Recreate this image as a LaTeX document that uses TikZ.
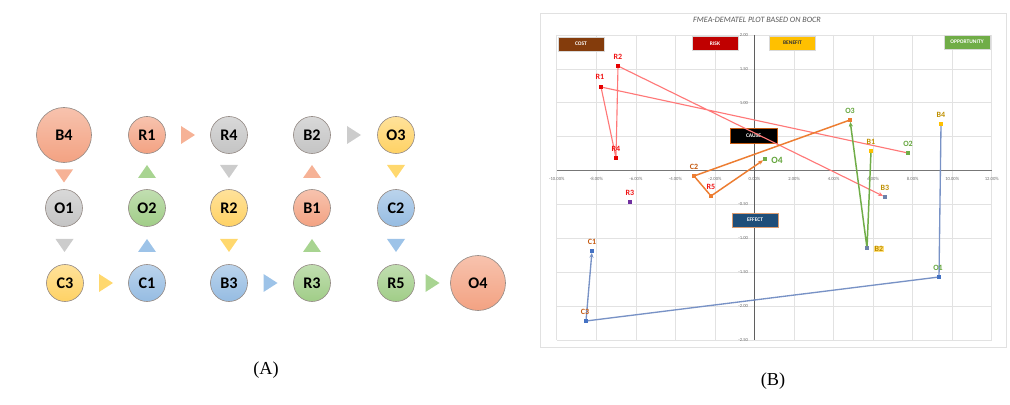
\documentclass[tikz,border=0pt]{standalone}
\usepackage{fontspec}
\setmainfont{Carlito}
\newfontfamily\serifA{Liberation Serif}
\usetikzlibrary{arrows.meta}
\definecolor{salmonN}{RGB}{243,162,130}
\definecolor{grayN}{RGB}{196,196,196}
\definecolor{yellowN}{RGB}{255,210,100}
\definecolor{greenN}{RGB}{160,205,135}
\definecolor{blueN}{RGB}{150,188,226}
\definecolor{salmonT}{RGB}{246,178,150}
\definecolor{grayT}{RGB}{204,204,204}
\definecolor{yellowT}{RGB}{255,216,110}
\definecolor{greenT}{RGB}{168,212,145}
\definecolor{blueT}{RGB}{157,195,232}
\definecolor{nodeBorder}{RGB}{150,140,135}
\definecolor{gridC}{RGB}{226,226,226}
\definecolor{axisC}{RGB}{95,95,95}
\definecolor{tickC}{RGB}{110,110,110}
\definecolor{frameC}{RGB}{225,225,225}
\definecolor{costC}{RGB}{132,60,12}
\definecolor{riskC}{RGB}{192,0,0}
\definecolor{benefitC}{RGB}{255,192,0}
\definecolor{oppC}{RGB}{112,173,71}
\definecolor{redL}{RGB}{255,120,120}
\definecolor{orangeL}{RGB}{237,125,49}
\definecolor{greenL}{RGB}{112,173,71}
\definecolor{blueL}{RGB}{120,146,198}
\definecolor{effectC}{RGB}{31,78,121}
\definecolor{labR}{RGB}{240,20,20}
\definecolor{labC}{RGB}{197,90,17}
\definecolor{labO}{RGB}{100,165,60}
\definecolor{labB}{RGB}{191,144,0}
\definecolor{labBfill}{RGB}{255,222,120}
\definecolor{mkR}{RGB}{230,0,0}
\definecolor{mkP}{RGB}{112,48,160}
\definecolor{mkB}{RGB}{68,114,196}
\definecolor{mkY}{RGB}{255,192,0}
\definecolor{mkG}{RGB}{112,173,71}
\definecolor{mkS}{RGB}{110,130,170}
\tikzset{
  cnode/.style={circle, draw=nodeBorder, line width=0.45pt, minimum size=0.925cm, inner sep=0pt,
    top color=#1!65!white, bottom color=#1, font=\fontsize{11.5}{12}\selectfont\bfseries},
  bignode/.style={cnode=#1, minimum size=1.375cm},
  pics/triright/.style={code={\fill[#1] (-7,-9) -- (7,0) -- (-7,9) -- cycle;}},
  pics/tridown/.style={code={\fill[#1] (-9,-6.5) -- (9,-6.5) -- (0,6.5) -- cycle;}},
  pics/triup/.style={code={\fill[#1] (-9,6.5) -- (9,6.5) -- (0,-6.5) -- cycle;}},
  legbox/.style={draw=white!85!black, line width=0.3pt, minimum width=1.15cm, minimum height=0.35cm, inner sep=0pt,
    font=\fontsize{3.9}{4.5}\selectfont\bfseries},
  tick/.style={font=\fontsize{3.3}{4}\selectfont, text=tickC, inner sep=0.5pt},
  mk/.style={rectangle, inner sep=0pt, minimum size=2.4pt, fill=#1},
  lab/.style={font=\fontsize{5.7}{6}\selectfont\bfseries, inner sep=0.5pt, text=#1},
  tip/.style={-{Stealth[length=3.4pt,width=3pt]}}
}
\begin{document}
\begin{tikzpicture}[x=0.025cm, y=-0.025cm]
\useasboundingbox (0,0) rectangle (1010,405);
% ---------------- Panel A ----------------
\node[bignode=salmonN] (B4) at (64,135) {B4};
\node[cnode=salmonN] (R1) at (147,135) {R1};
\node[cnode=grayN] (R4) at (229,135) {R4};
\node[cnode=grayN] (B2) at (312,135) {B2};
\node[cnode=yellowN] (O3) at (396,135) {O3};
\node[cnode=grayN] (O1) at (64,208) {O1};
\node[cnode=greenN] (O2) at (147,208) {O2};
\node[cnode=yellowN] (R2) at (229,208) {R2};
\node[cnode=salmonN] (B1) at (312,208) {B1};
\node[cnode=blueN] (C2) at (396,208) {C2};
\node[cnode=yellowN] (C3) at (65,283) {C3};
\node[cnode=blueN] (C1) at (147,283) {C1};
\node[cnode=blueN] (B3) at (229,283) {B3};
\node[cnode=greenN] (R3) at (312,283) {R3};
\node[cnode=greenN] (R5) at (396,283) {R5};
\node[bignode=salmonN] (O4) at (478,283) {O4};
% triangles between nodes
\path (R1) -- (R4) coordinate[midway] (tA1);
\path (B2) -- (O3) coordinate[midway] (tA2);
\path (C3) -- (C1) coordinate[midway] (tA3);
\path (B3) -- (R3) coordinate[midway] (tA4);
\path (R5) -- (O4) coordinate[midway] (tA5);
\pic at (tA1) {triright=salmonT};
\pic at (tA2) {triright=grayT};
\pic at (tA3) {triright=yellowT};
\pic at (tA4) {triright=blueT};
\pic at (tA5) {triright=greenT};
\path (B4) -- (O1) coordinate[midway] (tB1);
\path (R1) -- (O2) coordinate[midway] (tB2);
\path (R4) -- (R2) coordinate[midway] (tB3);
\path (B2) -- (B1) coordinate[midway] (tB4);
\path (O3) -- (C2) coordinate[midway] (tB5);
\pic at (tB1) {tridown=salmonT};
\pic at (tB2) {triup=greenT};
\pic at (tB3) {tridown=grayT};
\pic at (tB4) {triup=salmonT};
\pic at (tB5) {tridown=yellowT};
\path (O1) -- (C3) coordinate[midway] (tC1);
\path (O2) -- (C1) coordinate[midway] (tC2);
\path (R2) -- (B3) coordinate[midway] (tC3);
\path (B1) -- (R3) coordinate[midway] (tC4);
\path (C2) -- (R5) coordinate[midway] (tC5);
\pic at (tC1) {tridown=grayT};
\pic at (tC2) {triup=blueT};
\pic at (tC3) {tridown=yellowT};
\pic at (tC4) {triup=greenT};
\pic at (tC5) {tridown=blueT};
\node[font=\serifA\fontsize{13}{15}\selectfont] (capA) at (266,370) {(A)};
% ---------------- Panel B ----------------
\draw[frameC, fill=white, line width=0.4pt] (540,13) rectangle (1006,347);
\foreach \i in {0,...,11} { \draw[gridC, line width=0.55pt] ({556.8+\i*39.54},35) -- ({556.8+\i*39.54},340); }
\foreach \j in {0,...,9} { \draw[gridC, line width=0.55pt] (556.8,{35+\j*33.9}) -- (991.7,{35+\j*33.9}); }
\draw[axisC!85, line width=1pt] (556.8,170.5) -- (991.7,170.5);
\draw[axisC, line width=1.2pt] (754.5,35) -- (754.5,340);
\foreach \v in {-10,-8,...,12} { \node[tick] (xl\v) at ({754.5+\v*19.77},178.5) {\v.00\%}; }
\foreach \t/\v in {2.00/2,1.50/1.5,1.00/1,0.50/0.5,-0.50/-0.5,-1.00/-1,-1.50/-1.5,-2.00/-2,-2.50/-2.5}
  { \node[tick, anchor=east] (yl\t) at (749,{170.5-\v*67.78}) {\t}; }
\node[font=\fontsize{5.8}{7}\selectfont\itshape, text=black!65] (title) at (757,20) {FMEA-DEMATEL PLOT BASED ON BOCR};
\node[legbox, fill=costC, text=white] (cost) at (581,44) {COST};
\node[legbox, fill=riskC, text=white] (risk) at (715,43.5) {RISK};
\node[legbox, fill=benefitC, text=black!80] (benefit) at (792.5,43) {BENEFIT};
\node[legbox, fill=oppC, text=white] (opp) at (967,42) {OPPORTUNITY};
\node[legbox, fill=black, draw=labC, text=white, minimum width=1.18cm, minimum height=0.37cm] (cause) at (753.5,135.5) {CAUSE};
\node[legbox, fill=effectC, draw=labC!60, text=white] (effect) at (755,220) {EFFECT};
% data points
\node[mk=mkR] (pR2) at (618,66) {};
\node[mk=mkR] (pR1) at (601,87) {};
\node[mk=mkR] (pR4) at (616,158) {};
\node[mk=mkP] (pR3) at (630,202) {};
\node[mk=orangeL] (pC2) at (694,176) {};
\node[mk=orangeL] (pR5) at (711,196) {};
\node[mk=mkG] (pO4) at (765,159) {};
\node[mk=orangeL] (pO3) at (850,120) {};
\node[mk=mkY] (pB1) at (871,151) {};
\node[mk=mkS] (pB2) at (867,248) {};
\node[mk=mkG] (pO2) at (908,153) {};
\node[mk=mkS] (pB3) at (885,197) {};
\node[mk=mkY] (pB4) at (941,124) {};
\node[mk=mkB] (pO1) at (939,277) {};
\node[mk=mkB] (pC3) at (586,321) {};
\node[mk=mkB] (pC1) at (592,251) {};
% series
\draw[redL, line width=0.8pt, tip] (pO2) -- (pR1) -- (pR4) -- (pR2) -- (pB3);
\draw[orangeL, line width=1.05pt, tip] (pO3) -- (pC2) -- (pR5) -- (pO4);
\draw[greenL, line width=1.05pt, tip] (pB1) -- (pB2) -- (pO3);
\draw[blueL, line width=0.95pt, tip] (pB4) -- (pO1) -- (pC3) -- (pC1);
% labels
\node[lab=labR] (lR2) at (618,56.5) {R2};
\node[lab=labR] (lR1) at (600,77) {R1};
\node[lab=labR] (lR4) at (616,148.5) {R4};
\node[lab=labR] (lR3) at (630,193) {R3};
\node[lab=labR] (lR5) at (711,187) {R5};
\node[lab=labC] (lC2) at (694,167) {C2};
\node[lab=labC] (lC1) at (592,242) {C1};
\node[lab=labC] (lC3) at (585,312) {C3};
\node[lab=labO, font=\fontsize{6.8}{7}\selectfont\bfseries] (lO4) at (777,160) {O4};
\node[lab=labO] (lO3) at (850,111) {O3};
\node[lab=labO] (lO2) at (908,143.5) {O2};
\node[lab=labO] (lO1) at (938,268) {O1};
\node[lab=labB] (lB1) at (871,142) {B1};
\node[lab=labB] (lB3) at (885,188) {B3};
\node[lab=labB] (lB4) at (941,115) {B4};
\node[lab=labB, fill=labBfill] (lB2) at (879,249) {B2};
\node[font=\serifA\fontsize{13}{15}\selectfont] (capB) at (773,381) {(B)};
\end{tikzpicture}
\end{document}
